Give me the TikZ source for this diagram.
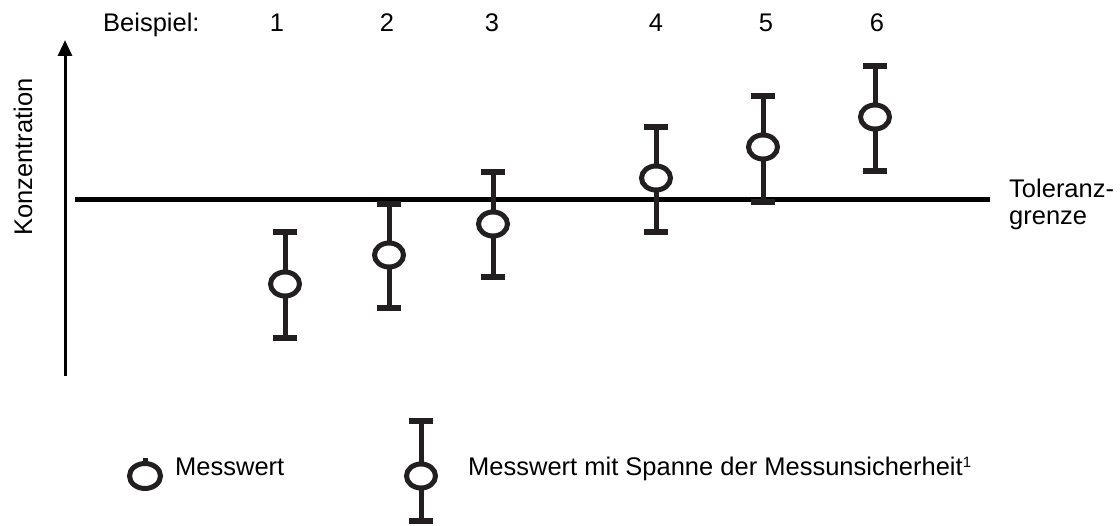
\documentclass[tikz,border=0pt]{standalone}
\usepackage{fontspec}
\setmainfont{Liberation Sans}
\usetikzlibrary{shapes.geometric,arrows.meta}
\definecolor{ink}{HTML}{231F20}
\tikzset{
  meas/.style={ellipse, draw=ink, line width=5pt, fill=white, minimum width=29pt, minimum height=24pt, inner sep=0pt},
  whisk/.style={draw=ink, line width=5pt},
  capline/.style={draw=ink, line width=6pt},
  lbl/.style={font=\fontsize{25.5}{30}\selectfont, inner sep=0pt},
}
\begin{document}
\begin{tikzpicture}[x=1pt,y=-1pt]
\useasboundingbox (0,0) rectangle (1120,526);
% axis
\coordinate (ax0) at (65,376);
\coordinate (ax1) at (65,40);
\draw[line width=3pt,-{Triangle[length=16pt,width=14pt]}] (ax0) -- (ax1);
\node[lbl,rotate=90,anchor=base] (ylab) at (32,157) {Konzentration};
% tolerance line
\coordinate (tl0) at (75,200);
\coordinate (tl1) at (990,200);
\draw[line width=5pt] (tl0) -- (tl1);
\node[lbl,anchor=base west] (tol1) at (1009,198) {Toleranz-};
\node[lbl,anchor=base west] (tol2) at (1009,225) {grenze};
% header
\node[lbl,anchor=base west] (bsp) at (103,32) {Beispiel:};
% bars
\foreach \i/\x/\nx/\t/\m/\b in {1/285/277/232/284/338, 2/389/387/204/255/308, 3/493/492/172/224/277, 4/656/656/127/178/232, 5/763/766/96/147/202, 6/875/877/66/117/171}{
  \node[lbl,anchor=base] (n\i) at (\nx,32) {\i};
  \coordinate (t\i) at (\x,\t);
  \coordinate (b\i) at (\x,\b);
  \draw[whisk] (t\i) -- (b\i);
  \draw[capline] ([xshift=-12pt]t\i) -- ([xshift=12pt]t\i);
  \draw[capline] ([xshift=-12pt]b\i) -- ([xshift=12pt]b\i);
  \node[meas] (m\i) at (\x,\m) {};
}
% legend
\coordinate (lt0) at (145,458);
\draw[whisk] (lt0) -- (145,470);
\node[meas,minimum width=31pt,minimum height=25pt] (lm0) at (145,476) {};
\node[lbl,anchor=base west] (leg1) at (175,476) {Messwert};
\coordinate (lt1) at (421,421);
\coordinate (lb1) at (421,521);
\draw[whisk] (lt1) -- (lb1);
\draw[capline] ([xshift=-12pt]lt1) -- ([xshift=12pt]lt1);
\draw[capline] ([xshift=-12pt]lb1) -- ([xshift=12pt]lb1);
\node[meas] (lm1) at (421,476) {};
\node[lbl,anchor=base west] (leg2) at (468,476) {Messwert mit Spanne der Messunsicherheit{\fontsize{15}{18}\selectfont\raisebox{8pt}{1}}};
\end{tikzpicture}
\end{document}
